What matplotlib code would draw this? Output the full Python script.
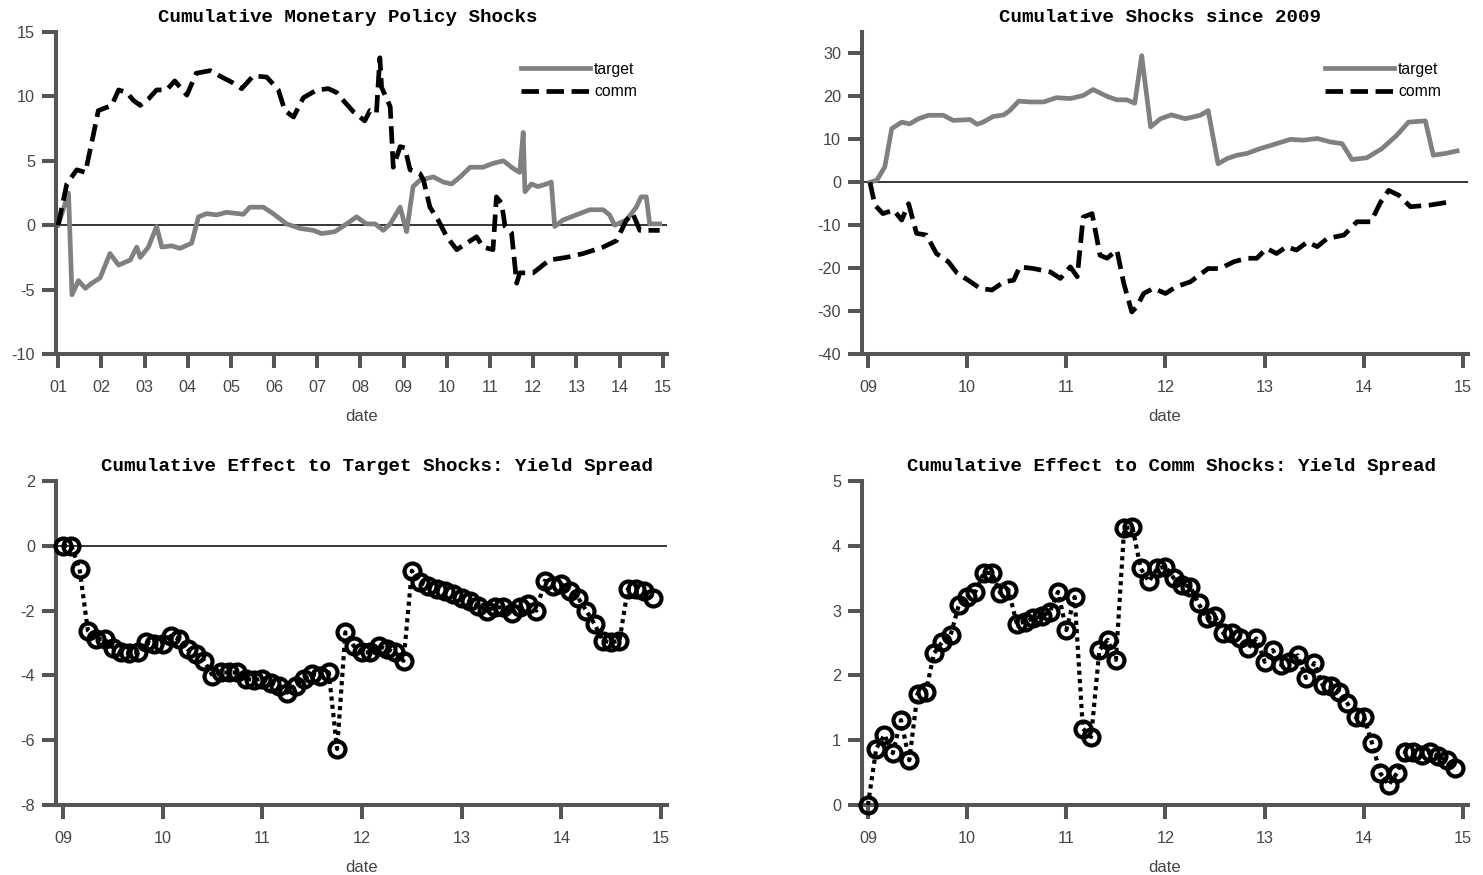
import numpy as np
import matplotlib
matplotlib.use("Agg")
import matplotlib.pyplot as plt

plt.rcParams['font.family'] = ['Liberation Sans', 'DejaVu Sans']
plt.rcParams['axes.unicode_minus'] = False

# top-left: cumulative shocks 2001-2015
tl_target_t = [2001.0, 2001.24, 2001.32, 2001.47, 2001.63, 2001.78, 2001.97, 2002.2, 2002.4, 2002.67,
               2002.82, 2002.9, 2003.09, 2003.28, 2003.4, 2003.63, 2003.82, 2004.09, 2004.25, 2004.44,
               2004.67, 2004.9, 2005.29, 2005.44, 2005.75, 2005.98, 2006.29, 2006.6, 2006.91, 2007.1,
               2007.41, 2007.68, 2007.91, 2008.14, 2008.34, 2008.53, 2008.69, 2008.92, 2009.07, 2009.22,
               2009.38, 2009.69, 2009.92, 2010.11, 2010.31, 2010.54, 2010.84, 2011.07, 2011.31, 2011.54,
               2011.69, 2011.77, 2011.81, 2011.96, 2012.11, 2012.31, 2012.42, 2012.5, 2012.69, 2013.0,
               2013.31, 2013.62, 2013.77, 2013.89, 2014.16, 2014.39, 2014.5, 2014.62, 2014.7, 2014.93]
tl_target_v = [0, 2.5, -5.4, -4.3, -4.9, -4.5, -4.1, -2.2, -3.1, -2.7,
               -1.7, -2.5, -1.7, -0.1, -1.7, -1.6, -1.8, -1.4, 0.65, 0.9,
               0.8, 1.0, 0.85, 1.4, 1.4, 0.9, 0.1, -0.25, -0.4, -0.65,
               -0.5, 0.1, 0.65, 0.1, 0.1, -0.4, 0.1, 1.4, -0.5, 3.0,
               3.5, 3.75, 3.35, 3.2, 3.75, 4.5, 4.5, 4.8, 5.0, 4.4,
               4.1, 7.2, 2.6, 3.2, 3.0, 3.2, 3.35, -0.1, 0.4, 0.8,
               1.2, 1.2, 0.8, 0.0, 0.4, 1.4, 2.2, 2.2, 0.1, 0.1]
tl_comm_t = [2001.0, 2001.2, 2001.43, 2001.63, 2001.82, 2001.93, 2002.24, 2002.4, 2002.59, 2002.74,
             2002.9, 2003.09, 2003.28, 2003.51, 2003.7, 2003.98, 2004.2, 2004.52, 2004.79, 2005.02,
             2005.25, 2005.52, 2005.83, 2006.1, 2006.25, 2006.45, 2006.68, 2006.99, 2007.26, 2007.45,
             2007.6, 2007.84, 2008.1, 2008.22, 2008.37, 2008.45, 2008.49, 2008.69, 2008.76, 2008.92,
             2009.03, 2009.15, 2009.38, 2009.46, 2009.61, 2009.8, 2010.0, 2010.23, 2010.46, 2010.69,
             2010.84, 2011.07, 2011.15, 2011.27, 2011.35, 2011.5, 2011.62, 2011.69, 2012.0, 2012.38,
             2012.77, 2013.16, 2013.62, 2013.93, 2014.16, 2014.31, 2014.47, 2014.93]
tl_comm_v = [0, 3.2, 4.3, 4.1, 7.1, 8.9, 9.3, 10.5, 10.3, 9.7,
             9.3, 9.8, 10.5, 10.5, 11.2, 10.1, 11.8, 12.0, 11.5, 11.1,
             10.6, 11.6, 11.5, 10.5, 8.9, 8.4, 9.9, 10.5, 10.6, 10.3,
             9.7, 8.8, 8.1, 8.9, 8.7, 13.0, 10.7, 9.2, 4.5, 6.1,
             6.0, 4.3, 4.0, 3.5, 1.4, 0.4, -0.9, -1.9, -1.4, -0.9,
             -1.7, -1.9, 2.2, 1.7, -0.1, -0.6, -4.5, -3.7, -3.7, -2.7,
             -2.5, -2.2, -1.7, -1.2, 0.4, 0.9, -0.4, -0.4]

# top-right: cumulative shocks since 2009
tr_target_t = [2009.02, 2009.09, 2009.17, 2009.24, 2009.34, 2009.42, 2009.51, 2009.61, 2009.76, 2009.86,
               2010.03, 2010.1, 2010.16, 2010.26, 2010.37, 2010.43, 2010.52, 2010.63, 2010.77, 2010.9,
               2011.04, 2011.17, 2011.27, 2011.41, 2011.51, 2011.61, 2011.69, 2011.76, 2011.85, 2011.95,
               2012.06, 2012.2, 2012.35, 2012.43, 2012.53, 2012.62, 2012.72, 2012.82, 2012.95, 2013.12,
               2013.26, 2013.39, 2013.53, 2013.66, 2013.78, 2013.88, 2014.03, 2014.18, 2014.33, 2014.45,
               2014.62, 2014.7, 2014.82, 2014.94]
tr_target_v = [0, 0.5, 3.6, 12.5, 14.0, 13.6, 14.8, 15.6, 15.6, 14.4,
               14.6, 13.5, 14.0, 15.3, 15.7, 16.7, 18.9, 18.7, 18.7, 19.7,
               19.5, 20.2, 21.6, 20.0, 19.2, 19.2, 18.4, 29.5, 12.9, 14.8,
               15.7, 14.8, 15.6, 16.7, 4.3, 5.5, 6.3, 6.7, 7.8, 9.0,
               10.0, 9.8, 10.2, 9.4, 9.0, 5.3, 5.7, 7.8, 10.9, 14.0,
               14.3, 6.3, 6.7, 7.3]
tr_comm_t = [2009.02, 2009.07, 2009.15, 2009.26, 2009.34, 2009.41, 2009.49, 2009.59, 2009.69, 2009.81,
             2009.9, 2010.01, 2010.13, 2010.25, 2010.37, 2010.47, 2010.53, 2010.67, 2010.84, 2010.94,
             2011.04, 2011.11, 2011.17, 2011.26, 2011.34, 2011.41, 2011.51, 2011.58, 2011.66, 2011.71,
             2011.78, 2011.88, 2012.0, 2012.11, 2012.25, 2012.43, 2012.55, 2012.69, 2012.82, 2012.92,
             2013.02, 2013.12, 2013.22, 2013.32, 2013.43, 2013.53, 2013.63, 2013.8, 2013.93, 2014.07,
             2014.17, 2014.25, 2014.35, 2014.47, 2014.67, 2014.86]
tr_comm_v = [0, -5.3, -7.3, -6.5, -8.8, -5.0, -11.9, -12.3, -16.6, -18.5,
             -21.2, -22.8, -24.7, -25.1, -23.2, -22.8, -19.7, -20.1, -20.9, -22.4,
             -19.7, -22.0, -8.1, -7.3, -17.0, -17.7, -15.8, -23.6, -30.2, -29.0,
             -25.9, -24.7, -25.9, -24.3, -23.2, -20.1, -20.1, -18.5, -17.7, -17.7,
             -15.4, -16.6, -15.0, -15.8, -13.9, -15.0, -13.1, -12.3, -9.2, -9.2,
             -4.6, -1.9, -3.0, -5.7, -5.3, -4.6]

# bottom: monthly cumulative effect on yield spread, Jan 2009 - Dec 2014
months = 2009 + np.arange(72) / 12.0
bl_target = [0, 0, -0.72, -2.62, -2.88, -2.88, -3.14, -3.29, -3.32, -3.29,
             -2.98, -3.03, -3.03, -2.78, -2.88, -3.19, -3.34, -3.55, -4.01, -3.91,
             -3.91, -3.91, -4.11, -4.14, -4.11, -4.22, -4.32, -4.53, -4.32, -4.11,
             -3.96, -4.01, -3.91, -6.27, -2.67, -3.09, -3.29, -3.29, -3.09, -3.19,
             -3.29, -3.55, -0.77, -1.13, -1.23, -1.34, -1.39, -1.49, -1.6, -1.7,
             -1.85, -2.0, -1.9, -1.9, -2.06, -1.9, -1.8, -2.0, -1.08, -1.23,
             -1.18, -1.39, -1.6, -2.0, -2.42, -2.93, -2.98, -2.93, -1.34, -1.34,
             -1.39, -1.6]
br_comm = [0.0, 0.87, 1.08, 0.8, 1.31, 0.69, 1.72, 1.75, 2.34, 2.52,
           2.62, 3.09, 3.21, 3.29, 3.58, 3.58, 3.27, 3.32, 2.8, 2.83,
           2.88, 2.91, 2.98, 3.29, 2.7, 3.21, 1.18, 1.05, 2.39, 2.55,
           2.24, 4.27, 4.29, 3.65, 3.45, 3.65, 3.68, 3.5, 3.4, 3.37,
           3.11, 2.88, 2.91, 2.65, 2.65, 2.57, 2.42, 2.57, 2.21, 2.39,
           2.16, 2.21, 2.31, 1.96, 2.19, 1.85, 1.83, 1.75, 1.57, 1.36,
           1.36, 0.95, 0.49, 0.31, 0.49, 0.82, 0.82, 0.77, 0.82, 0.75,
           0.69, 0.57]

W, H = 1483, 875
fig = plt.figure(figsize=(W / 100, H / 100), dpi=100)


def px_axes(x0, x1, y0, y1):
    return fig.add_axes([x0 / W, 1 - y1 / H, (x1 - x0) / W, (y1 - y0) / H])


def style(ax, title, tx, years, xlim, ylim, yticks):
    for s in ['top', 'right']:
        ax.spines[s].set_visible(False)
    for s in ['left', 'bottom']:
        ax.spines[s].set_linewidth(2.9)
        ax.spines[s].set_color('#555555')
    ax.tick_params(direction='out', length=10, width=2.9, color='#555555',
                   labelcolor='#454545', labelsize=11.7)
    ax.tick_params(axis='x', pad=8.5)
    ax.tick_params(axis='y', pad=5)
    ax.set_xticks(years)
    ax.set_xticklabels(['%02d' % (y % 100) for y in years])
    ax.set_yticks(yticks)
    ax.set_xlim(*xlim)
    ax.set_ylim(*ylim)
    ax.set_xlabel('date', fontsize=12, color='#454545', labelpad=10)
    ax.set_title(title, family='Liberation Mono', fontweight='bold', fontsize=13.8,
                 x=tx, pad=7)
    ax.axhline(0, color='black', lw=1.1, zorder=1)


# top-left
ax1 = px_axes(56, 667, 32, 354)
ax1.plot(tl_target_t, tl_target_v, color='#808080', lw=3.4, label='target', zorder=2)
ax1.plot(tl_comm_t, tl_comm_v, color='black', lw=3.4, ls='--', label='comm', zorder=3)
style(ax1, 'Cumulative Monetary Policy Shocks', 0.478, list(range(2001, 2016)),
      (2000.95, 2015.1), (-10, 15), range(-10, 16, 5))
ax1.legend(loc='upper left', bbox_to_anchor=(0.761, 0.907), frameon=False, fontsize=11.3,
           handlelength=4.4, handletextpad=0.25, borderpad=0, borderaxespad=0, labelspacing=0.45)

# top-right
ax2 = px_axes(862, 1468, 32, 354)
ax2.plot(tr_target_t, tr_target_v, color='#808080', lw=3.4, label='target', zorder=2)
ax2.plot(tr_comm_t, tr_comm_v, color='black', lw=3.4, ls='--', label='comm', zorder=3)
style(ax2, 'Cumulative Shocks since 2009', 0.492, list(range(2009, 2016)),
      (2008.94, 2015.05), (-40, 35), range(-40, 31, 10))
ax2.legend(loc='upper left', bbox_to_anchor=(0.764, 0.907), frameon=False, fontsize=11.3,
           handlelength=4.4, handletextpad=0.25, borderpad=0, borderaxespad=0, labelspacing=0.45)

# bottom-left
ax3 = px_axes(56, 667, 481, 805)
ax3.plot(months, bl_target, color='black', lw=3, ls=(0, (1, 1)), marker='o', ms=11.5,
         mfc='none', mec='black', mew=3, clip_on=False, zorder=3)
style(ax3, 'Cumulative Effect to Target Shocks: Yield Spread', 0.525, list(range(2009, 2016)),
      (2008.93, 2015.06), (-8, 2), range(-8, 3, 2))

# bottom-right
ax4 = px_axes(862, 1468, 481, 805)
ax4.plot(months, br_comm, color='black', lw=3, ls=(0, (1, 1)), marker='o', ms=11.5,
         mfc='none', mec='black', mew=3, clip_on=False, zorder=3)
style(ax4, 'Cumulative Effect to Comm Shocks: Yield Spread', 0.51, list(range(2009, 2016)),
      (2008.94, 2015.05), (0, 5), range(0, 6, 1))

fig.savefig('out.png', dpi=100)
